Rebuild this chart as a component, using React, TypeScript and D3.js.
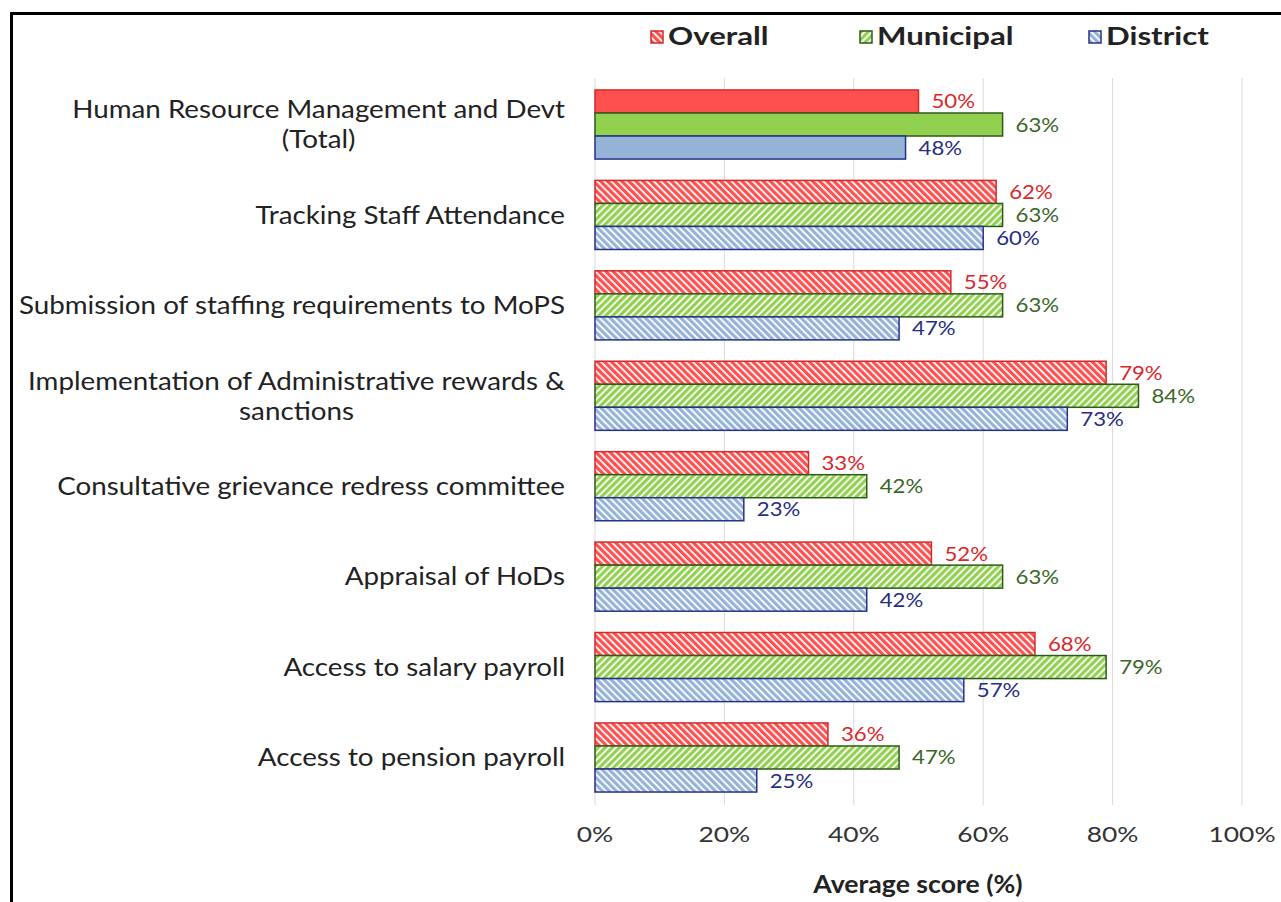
import React, { useEffect, useRef } from "react";
import * as d3 from "d3";

const categories = [
  ["Human Resource Management and Devt", "(Total)"],
  ["Tracking Staff Attendance"],
  ["Submission of staffing requirements to MoPS"],
  ["Implementation of Administrative rewards &", "sanctions"],
  ["Consultative grievance redress committee"],
  ["Appraisal of HoDs"],
  ["Access to salary payroll"],
  ["Access to pension payroll"],
];
const overall = [50, 62, 55, 79, 33, 52, 68, 36];
const municipal = [63, 63, 63, 84, 42, 63, 79, 47];
const district = [48, 60, 47, 73, 23, 42, 57, 25];
const xTicks = [0, 20, 40, 60, 80, 100];

const series = [
  { name: "Overall", values: overall, fill: "#ff4f4f", stroke: "#d42a2a", label: "#d9262b", dir: -45 },
  { name: "Municipal", values: municipal, fill: "#92d050", stroke: "#2f5a1c", label: "#3a6627", dir: 45 },
  { name: "District", values: district, fill: "#95b3d7", stroke: "#27318a", label: "#262d82", dir: -45 },
];

const FONT = "Lato, 'Open Sans', sans-serif";
const SX = 1.11; // the original font (gill sans) runs wider than lato

// text stretched horizontally around its anchor point
const St = ({ x, y, sx = SX, children, ...rest }: any) => (
  <text transform={`translate(${x},${y}) scale(${sx},1)`} dy="0.35em" {...rest}>
    {children}
  </text>
);

const App = () => {
  const labelsRef = useRef<SVGGElement>(null);

  const x = d3.scaleLinear().domain([0, 100]).range([595, 1242]);
  const y = d3
    .scaleBand<number>()
    .domain(d3.range(categories.length))
    .range([79.3, 802.7])
    .paddingInner(0.236)
    .paddingOuter(0.118);
  const sub = d3
    .scaleBand<number>()
    .domain([0, 1, 2])
    .range([0, y.bandwidth()]);

  // centre the wrapped labels on their longest line, like excel does
  useEffect(() => {
    const g = d3.select(labelsRef.current);
    g.selectAll<SVGTextElement, unknown>("text.multi").each(function () {
      const t = d3.select(this);
      const spans = t.selectAll<SVGTSpanElement, unknown>("tspan");
      let w = 0;
      spans.each(function () {
        w = Math.max(w, this.getComputedTextLength());
      });
      spans.attr("x", -w / 2);
      t.attr("text-anchor", "middle");
    });
  }, []);

  return (
    <svg
      width={1281}
      height={902}
      style={{ position: "absolute", left: 0, top: 0, background: "#fff" }}
      fontFamily={FONT}
    >
      <defs>
        {series.map((s, i) => (
          <pattern
            key={s.name}
            id={"hatch" + i}
            patternUnits="userSpaceOnUse"
            width={5}
            height={5}
            patternTransform={`rotate(${s.dir})`}
          >
            <rect width={5} height={5} fill="#fff" />
            <rect width={3.2} height={5} fill={s.fill} />
          </pattern>
        ))}
      </defs>

      <rect x={11.5} y={13.5} width={1400} height={1000} fill="none" stroke="#000" strokeWidth={3} />

      {/* grid */}
      {xTicks.map((t) => (
        <line key={t} x1={x(t)} x2={x(t)} y1={78} y2={805} stroke="#d9d9d9" strokeWidth={1} />
      ))}

      {/* bars */}
      {series.map((s, si) =>
        s.values.map((v, ci) => (
          <g key={s.name + ci}>
            <rect
              x={x(0)}
              y={(y(ci) as number) + (sub(si) as number)}
              width={x(v) - x(0)}
              height={sub.bandwidth()}
              fill={ci === 0 ? s.fill : `url(#hatch${si})`}
              stroke={s.stroke}
              strokeWidth={1.5}
            />
            <St
              x={x(v) + 13}
              y={(y(ci) as number) + (sub(si) as number) + sub.bandwidth() / 2}
              fill={s.label}
              fontSize={20}
            >
              {v}%
            </St>
          </g>
        ))
      )}

      {/* category labels */}
      <g ref={labelsRef}>
        {categories.map((lines, ci) => {
          const cy = (y(ci) as number) + y.bandwidth() / 2;
          const y0 = -((lines.length - 1) * 30) / 2;
          return (
            <text
              key={ci}
              className={lines.length > 1 ? "multi" : ""}
              transform={`translate(565,${cy}) scale(${SX},1)`}
              textAnchor="end"
              fontSize={25}
              fill="#222"
            >
              {lines.map((l, li) => (
                <tspan key={li} x={0} y={y0 + li * 30} dy="0.35em">
                  {l}
                </tspan>
              ))}
            </text>
          );
        })}
      </g>

      {/* x axis ticks */}
      {xTicks.map((t) => (
        <St key={t} x={x(t)} y={834} sx={1.2} textAnchor="middle" fontSize={22} fill="#333">
          {t}%
        </St>
      ))}
      <St x={918} y={885} textAnchor="middle" fontSize={24} fontWeight="bold" fill="#222">
        Average score (%)
      </St>

      {/* legend */}
      {series.map((s, i) => {
        const lx = [651, 860, 1089][i];
        return (
          <g key={s.name}>
            <rect x={lx} y={31} width={12} height={12} fill={`url(#hatch${i})`} stroke={s.stroke} strokeWidth={1.5} />
            <St x={lx + 17} y={37} sx={1.3} fontSize={24} fontWeight="bold" fill="#222">
              {s.name}
            </St>
          </g>
        );
      })}
    </svg>
  );
};

export default App;
